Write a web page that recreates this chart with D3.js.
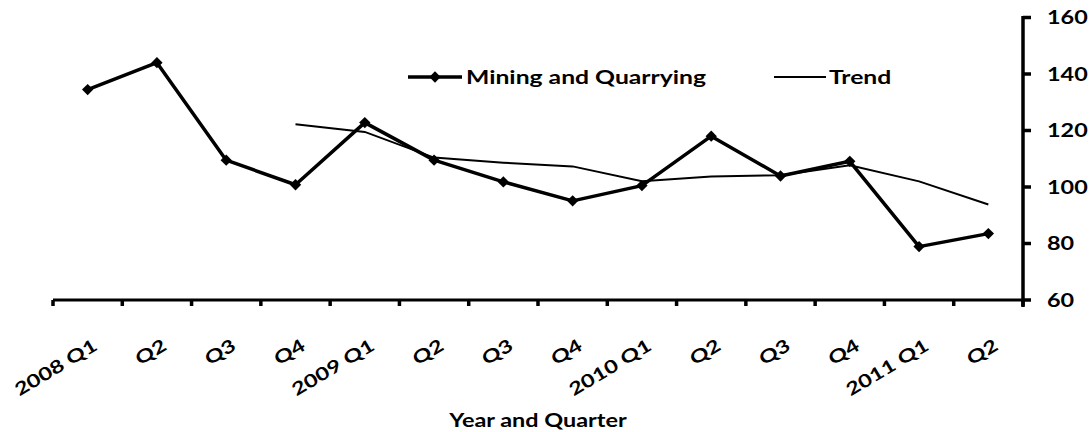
<!DOCTYPE html>
<html lang="en">
<head>
    <meta charset="UTF-8">
    <title>Mining and Quarrying</title>
    <style>
        body { margin: 0; padding: 0; background: #ffffff; }
        svg { display: block; }
        text { font-family: Lato, "Open Sans", sans-serif; font-weight: bold; fill: #000; }
    </style>
    <script src="https://d3js.org/d3.v7.min.js"></script>
</head>
<body>
    <script>
        // data
        const quarters = ["2008 Q1", "Q2", "Q3", "Q4", "2009 Q1", "Q2", "Q3", "Q4",
                          "2010 Q1", "Q2", "Q3", "Q4", "2011 Q1", "Q2"];
        const mining = [134.5, 144, 109.5, 100.8, 122.8, 109.5, 101.8, 95.1,
                        100.5, 118, 103.9, 109.1, 78.9, 83.5];
        const trend = [null, null, null, 122.2, 119.5, 110.4, 108.6, 107.3,
                       102, 103.7, 104.2, 107.7, 102, 93.8];
        const yTicks = [60, 80, 100, 120, 140, 160];

        const width = 1092, height = 432;
        const stretch = 1.3; // text in the original is a bit wide

        const svg = d3.select("body").append("svg")
            .attr("width", width)
            .attr("height", height);

        const x = d3.scaleBand().domain(d3.range(quarters.length)).range([53, 1023]);
        const y = d3.scaleLinear().domain([60, 160]).range([300, 17.5]);
        const cx = i => x(i) + x.bandwidth() / 2;

        function widen(sel) {
            sel.each(function() {
                const len = this.getComputedTextLength();
                d3.select(this).attr("textLength", len * stretch).attr("lengthAdjust", "spacingAndGlyphs");
            });
        }

        // x axis (ticks between categories)
        const xTickPos = d3.range(quarters.length + 1).map(i => i < quarters.length ? x(i) : x(i - 1) + x.bandwidth());
        svg.append("line")
            .attr("x1", 53).attr("x2", 1023)
            .attr("y1", y(60)).attr("y2", y(60))
            .attr("stroke", "#000").attr("stroke-width", 3);
        svg.selectAll(".xtick").data(xTickPos).enter().append("line")
            .attr("x1", d => d).attr("x2", d => d)
            .attr("y1", y(60)).attr("y2", y(60) + 6)
            .attr("stroke", "#000").attr("stroke-width", 3.5);

        svg.selectAll(".xlab").data(quarters).enter().append("text")
            .attr("text-anchor", "end")
            .attr("font-size", 18)
            .attr("transform", (d, i) => `translate(${cx(i) + 11},349) rotate(-31)`)
            .text(d => d)
            .call(widen);

        // right y axis
        svg.append("line")
            .attr("x1", 1023).attr("x2", 1023)
            .attr("y1", y(160) - 1.5).attr("y2", y(60) + 7)
            .attr("stroke", "#000").attr("stroke-width", 3.5);
        svg.selectAll(".ytick").data(yTicks).enter().append("line")
            .attr("x1", 1023).attr("x2", 1031)
            .attr("y1", d => y(d)).attr("y2", d => y(d))
            .attr("stroke", "#000").attr("stroke-width", 3.5);
        svg.selectAll(".ylab").data(yTicks).enter().append("text")
            .attr("x", 1047)
            .attr("y", d => y(d) + 6.5)
            .attr("font-size", 18)
            .text(d => d)
            .call(widen);

        // trend line
        const line = d3.line()
            .defined(d => d !== null)
            .x((d, i) => cx(i))
            .y(d => y(d));

        svg.append("path")
            .datum(trend)
            .attr("d", line)
            .attr("fill", "none")
            .attr("stroke", "#000")
            .attr("stroke-width", 2);

        // mining and quarrying series
        svg.append("path")
            .datum(mining)
            .attr("d", line)
            .attr("fill", "none")
            .attr("stroke", "#000")
            .attr("stroke-width", 3.5)
            .attr("stroke-linejoin", "round");

        const diamond = d3.symbol().type(d3.symbolSquare).size(64);
        svg.selectAll(".pt").data(mining).enter().append("path")
            .attr("d", diamond)
            .attr("transform", (d, i) => `translate(${cx(i)},${y(d)}) rotate(45)`)
            .attr("fill", "#000");

        // legend
        const lg = svg.append("g");
        lg.append("line").attr("x1", 408).attr("x2", 462).attr("y1", 77).attr("y2", 77)
            .attr("stroke", "#000").attr("stroke-width", 3.5);
        lg.append("path").attr("d", diamond).attr("transform", "translate(435,77) rotate(45)");
        lg.append("text").attr("x", 466).attr("y", 84).attr("font-size", 19)
            .text("Mining and Quarrying").call(widen);
        lg.append("line").attr("x1", 774).attr("x2", 826).attr("y1", 77).attr("y2", 77)
            .attr("stroke", "#000").attr("stroke-width", 2);
        lg.append("text").attr("x", 829).attr("y", 84).attr("font-size", 19)
            .text("Trend").call(widen);

        // axis title
        svg.append("text")
            .attr("x", 538).attr("y", 427)
            .attr("text-anchor", "middle")
            .attr("font-size", 18)
            .text("Year and Quarter")
            .call(widen);
    </script>
</body>
</html>
